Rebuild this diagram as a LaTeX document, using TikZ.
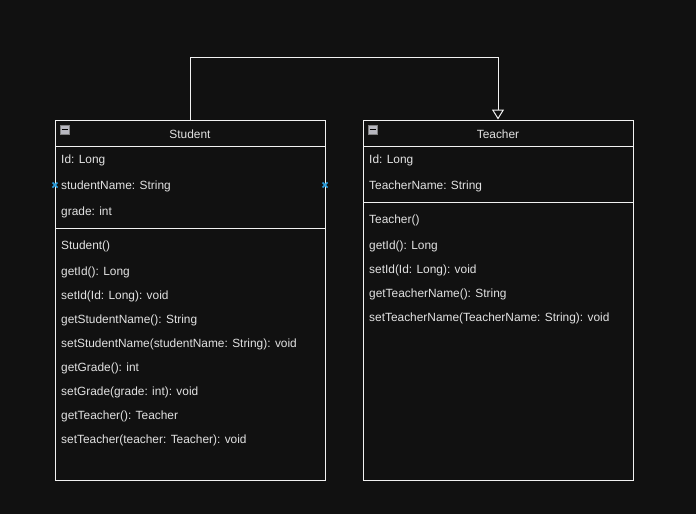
\documentclass[tikz,border=0pt]{standalone}
\usepackage{fontspec}
\setmainfont{Liberation Sans}
\usetikzlibrary{arrows.meta, positioning}
\definecolor{bgcol}{HTML}{111111}
\definecolor{linecol}{HTML}{F2F2F2}
\definecolor{txtcol}{HTML}{E2E2E2}
\definecolor{selcol}{HTML}{2A9FE0}
\definecolor{iconcol}{HTML}{B8B8C0}
\tikzset{
  classbox/.style = {draw=linecol, line width=1pt, minimum width=270pt, minimum height=360pt, inner sep=0pt},
  member/.style = {anchor=west, text=txtcol, inner sep=0pt, yshift=-1.5pt, font=\fontsize{11.9}{14}\selectfont},
  title/.style = {text=txtcol, inner sep=0pt, yshift=-1pt, font=\fontsize{11.9}{14}\selectfont},
  sepline/.style = {draw=linecol, line width=1pt},
  foldicon/.style = {fill=iconcol, draw=gray, line width=0.6pt, minimum size=9pt, inner sep=0pt},
  selmark/.style = {selcol, line width=1.6pt}
}
\begin{document}
\begin{tikzpicture}[x=1pt, y=-1pt]
\fill[bgcol] (0,0) rectangle (696,514);
\useasboundingbox (0,0) rectangle (696,514);

% class boxes
\node[classbox] (student) at (190,300) {};
\node[classbox] (teacher) at (498,300) {};

% compartments
\draw[sepline] (55,146) -- (325,146);
\draw[sepline] (55,228) -- (325,228);
\draw[sepline] (363,146) -- (633,146);
\draw[sepline] (363,202) -- (633,202);

% titles
\node[title] (studentname) at (190,133) {Student};
\node[title] (teachername) at (498,133) {Teacher};
\node[foldicon] (studenticon) at (64.5,129.5) {};
\node[foldicon] (teachericon) at (372.5,129.5) {};
\draw[black, line width=1.2pt] (61.5,129.5) -- (67.5,129.5);
\draw[black, line width=1.2pt] (369.5,129.5) -- (375.5,129.5);

% Student members
\foreach \y/\t in {159/Id: Long, 185/studentName: String, 211/grade: int,
  245/Student(), 271/getId(): Long, 295/setId(Id: Long): void,
  319/getStudentName(): String, 343/setStudentName(studentName: String): void,
  367/getGrade(): int, 391/setGrade(grade: int): void,
  415/getTeacher(): Teacher, 439/setTeacher(teacher: Teacher): void}
  \node[member] at (61,\y) {\t};

% Teacher members
\foreach \y/\t in {159/Id: Long, 185/TeacherName: String,
  219/Teacher(), 245/getId(): Long, 269/setId(Id: Long): void,
  293/getTeacherName(): String, 317/setTeacherName(TeacherName: String): void}
  \node[member] at (369,\y) {\t};

% selection markers
\foreach \x in {55,325} {
  \draw[selmark] (\x-2.5,182.5) -- (\x+2.5,187.5);
  \draw[selmark] (\x-2.5,187.5) -- (\x+2.5,182.5);
}

% generalization
\draw[linecol, line width=1pt, -{Triangle[open, width=12pt, length=10pt]}]
  (student.north) -- ++(0,-62) -| (teacher.north);
\end{tikzpicture}
\end{document}
